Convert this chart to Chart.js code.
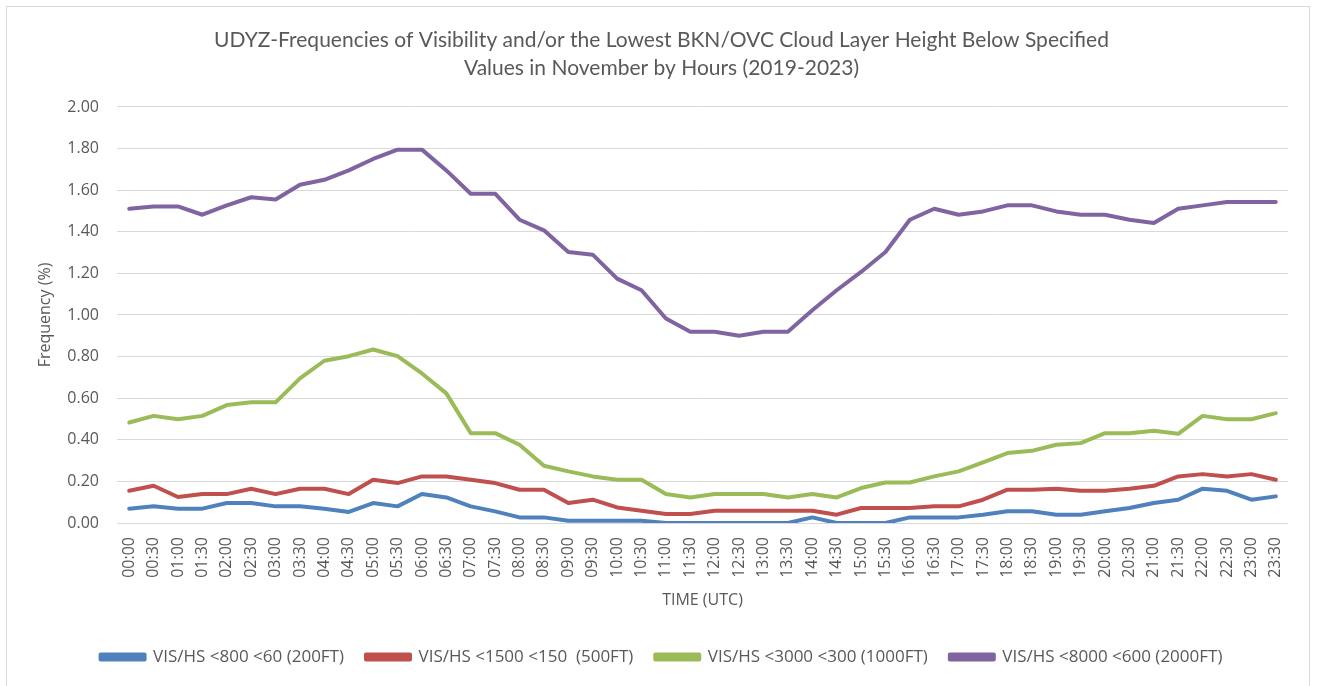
<!DOCTYPE html>
<html>
<head>
<meta charset="utf-8">
<script src="https://cdn.jsdelivr.net/npm/chart.js@4/dist/chart.umd.min.js"></script>
<style>
  html, body { margin: 0; padding: 0; background: #ffffff; }
  #wrap { position: relative; width: 1317px; height: 686px; }
  #frame { position: absolute; left: 6px; top: 6px; width: 1304px; height: 700px; border: 1px solid #d9d9d9; box-sizing: border-box; pointer-events: none; }
  canvas { display: block; }
</style>
</head>
<body>
<div id="wrap">
  <canvas id="c" width="1317" height="686"></canvas>
  <div id="frame"></div>
</div>
<script>
const titleLines = [
  "UDYZ-Frequencies of Visibility and/or the Lowest BKN/OVC Cloud Layer Height Below Specified",
  "Values in November by Hours (2019-2023)"
];
const xAxisTitle = "TIME (UTC)";
const yAxisTitle = "Frequency (%)";

const timeLabels = [
  "00:00","00:30","01:00","01:30","02:00","02:30","03:00","03:30","04:00","04:30",
  "05:00","05:30","06:00","06:30","07:00","07:30","08:00","08:30","09:00","09:30",
  "10:00","10:30","11:00","11:30","12:00","12:30","13:00","13:30","14:00","14:30",
  "15:00","15:30","16:00","16:30","17:00","17:30","18:00","18:30","19:00","19:30",
  "20:00","20:30","21:00","21:30","22:00","22:30","23:00","23:30"
];

const seriesNames = [
  "VIS/HS <800 <60 (200FT)",
  "VIS/HS <1500 <150  (500FT)",
  "VIS/HS <3000 <300 (1000FT)",
  "VIS/HS <8000 <600 (2000FT)"
];

const vis800 = [
  0.069, 0.080, 0.069, 0.069, 0.096, 0.096, 0.080, 0.080, 0.069, 0.053,
  0.096, 0.080, 0.139, 0.123, 0.080, 0.056, 0.027, 0.027, 0.011, 0.011,
  0.011, 0.011, 0.000, 0.000, 0.000, 0.000, 0.000, 0.000, 0.027, 0.000,
  0.000, 0.000, 0.027, 0.027, 0.027, 0.040, 0.056, 0.056, 0.040, 0.040,
  0.056, 0.072, 0.096, 0.112, 0.165, 0.155, 0.112, 0.128
];

const vis1500 = [
  0.155, 0.179, 0.125, 0.139, 0.139, 0.165, 0.139, 0.165, 0.165, 0.139,
  0.208, 0.192, 0.224, 0.224, 0.208, 0.192, 0.160, 0.160, 0.096, 0.112,
  0.075, 0.059, 0.043, 0.043, 0.059, 0.059, 0.059, 0.059, 0.059, 0.040,
  0.072, 0.072, 0.072, 0.080, 0.080, 0.112, 0.160, 0.160, 0.165, 0.155,
  0.155, 0.165, 0.179, 0.224, 0.235, 0.224, 0.235, 0.208
];

const vis3000 = [
  0.483, 0.515, 0.499, 0.515, 0.567, 0.580, 0.580, 0.695, 0.780, 0.802,
  0.834, 0.802, 0.719, 0.623, 0.432, 0.432, 0.376, 0.275, 0.248, 0.224,
  0.208, 0.208, 0.139, 0.123, 0.139, 0.139, 0.139, 0.123, 0.139, 0.123,
  0.168, 0.195, 0.195, 0.224, 0.248, 0.291, 0.336, 0.347, 0.376, 0.384,
  0.432, 0.432, 0.443, 0.429, 0.515, 0.499, 0.499, 0.528
];

const vis8000 = [
  1.511, 1.522, 1.522, 1.482, 1.527, 1.566, 1.555, 1.626, 1.650, 1.695,
  1.750, 1.795, 1.795, 1.695, 1.583, 1.583, 1.458, 1.407, 1.303, 1.290,
  1.175, 1.119, 0.983, 0.919, 0.919, 0.900, 0.919, 0.919, 1.023, 1.119,
  1.207, 1.303, 1.458, 1.511, 1.482, 1.498, 1.527, 1.527, 1.498, 1.482,
  1.482, 1.458, 1.442, 1.511, 1.527, 1.543, 1.543, 1.543
];

const seriesColors = ["#4f81bd", "#c0504d", "#9bbb59", "#8064a2"];
const yMin = 0, yMax = 2, yStep = 0.2;

const seriesValues = [vis800, vis1500, vis3000, vis8000];
const textColor = "#595959";
const fam = "'Open Sans', 'DejaVu Sans', sans-serif";

const datasets = seriesValues.map((vals, i) => ({
  label: seriesNames[i],
  data: vals,
  borderColor: seriesColors[i],
  backgroundColor: seriesColors[i],
  borderWidth: 4,
  pointRadius: 0,
  pointHoverRadius: 0,
  tension: 0,
  fill: false,
  borderCapStyle: 'round',
  borderJoinStyle: 'round'
}));

new Chart(document.getElementById('c'), {
  type: 'line',
  data: { labels: timeLabels, datasets: datasets },
  options: {
    responsive: false,
    animation: false,
    devicePixelRatio: 1,
    layout: { padding: { top: 26, left: 6, right: 0, bottom: 10.5 } },
    plugins: {
      tooltip: { enabled: false },
      title: {
        display: true,
        text: titleLines,
        color: textColor,
        font: { family: "Lato, 'Open Sans', sans-serif", size: 21, weight: 'normal', lineHeight: 1.333 },
        padding: { top: 0, bottom: 25 }
      },
      legend: {
        position: 'bottom',
        labels: {
          color: textColor,
          font: { family: fam, size: 17 },
          boxWidth: 44,
          boxHeight: 5,
          padding: 22
        }
      }
    },
    scales: {
      x: {
        type: 'category',
        offset: true,
        grid: { display: false, drawTicks: false },
        border: { display: false },
        ticks: {
          color: textColor,
          font: { family: fam, size: 16 },
          minRotation: 90,
          maxRotation: 90,
          autoSkip: false,
          padding: 14
        },
        title: {
          display: true,
          text: xAxisTitle,
          color: textColor,
          font: { family: fam, size: 16 },
          padding: { top: 0, bottom: 16 }
        },
        afterFit(scale) { scale.height = 103.5; }
      },
      y: {
        min: yMin,
        max: yMax,
        grid: { color: '#d9d9d9', lineWidth: 1, drawTicks: false },
        border: { display: false },
        ticks: {
          stepSize: yStep,
          color: textColor,
          font: { family: fam, size: 16 },
          padding: 18,
          callback: v => Number(v).toFixed(2)
        },
        title: {
          display: true,
          text: yAxisTitle,
          color: textColor,
          font: { family: fam, size: 16 },
          padding: { top: 30, bottom: 0 }
        },
        afterFit(scale) { scale.width = 111; }
      },
      yR: {
        position: 'right',
        display: true,
        grid: { display: false, drawTicks: false },
        border: { display: false },
        ticks: { display: false },
        afterFit(scale) { scale.width = 29; }
      }
    }
  }
});
</script>
</body>
</html>
